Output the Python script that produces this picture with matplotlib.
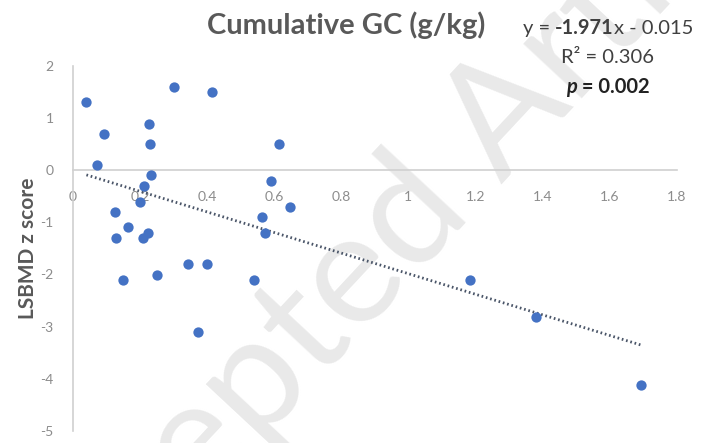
import numpy as np
import matplotlib
matplotlib.use("Agg")
import matplotlib.pyplot as plt
from matplotlib.offsetbox import TextArea, HPacker, VPacker, AnnotationBbox

# cumulative GC (g/kg) vs LSBMD z score
gc = [0.040, 0.091, 0.073, 0.300, 0.415, 0.227, 0.229, 0.234, 0.211, 0.199,
      0.614, 0.591, 0.646, 0.125, 0.563, 0.127, 0.163, 0.209, 0.224, 0.571,
      0.150, 0.249, 0.344, 0.399, 0.539, 0.373, 1.183, 1.381, 1.693]
z = [1.30, 0.69, 0.10, 1.59, 1.50, 0.89, 0.49, -0.10, -0.31, -0.61,
     0.49, -0.21, -0.71, -0.80, -0.90, -1.31, -1.10, -1.31, -1.21, -1.21,
     -2.10, -2.01, -1.80, -1.80, -2.10, -3.11, -2.10, -2.81, -4.12]

slope, intercept = -1.971, -0.015
xticks = [0, 0.2, 0.4, 0.6, 0.8, 1, 1.2, 1.4, 1.6, 1.8]
xticklabels = ["0", "0.2", "0.4", "0.6", "0.8", "1", "1.2", "1.4", "1.6", "1.8"]
yticks = [-5, -4, -3, -2, -1, 0, 1, 2]

plt.rcParams["font.family"] = ["Lato", "DejaVu Sans"]
plt.rcParams["axes.unicode_minus"] = False

fig = plt.figure(figsize=(7.02, 4.43), dpi=100)
ax = fig.add_axes([0.104, 0.027, 0.860, 0.825])
ax.patch.set_alpha(0)

# faint watermark behind everything
fig.text(0.55, 0.45, "Accepted Article", rotation=47, fontsize=114,
         color="#e9e9e9", ha="center", va="center", zorder=-5)

ax.scatter(gc, z, s=55, color="#4472C4", zorder=3, linewidths=0)
xs = np.array([min(gc), max(gc)])
ax.plot(xs, slope * xs + intercept, color="#4A5568", lw=2.0,
        ls=(0, (0.6, 1.0)), zorder=2)

ax.set_xlim(0, 1.8)
ax.set_ylim(-5, 2)
ax.set_xticks(xticks)
ax.set_xticklabels(xticklabels)
ax.set_yticks(yticks)
ax.tick_params(length=0, labelsize=10, labelcolor="#8c8c8c")
ax.tick_params(axis="x", pad=15)
ax.tick_params(axis="y", pad=14)

ax.spines["top"].set_visible(False)
ax.spines["right"].set_visible(False)
ax.spines["bottom"].set_position(("data", 0))
ax.spines["bottom"].set_color("#d0d0d0")
ax.spines["left"].set_color("#d0d0d0")
ax.spines["bottom"].set_linewidth(1.2)
ax.spines["left"].set_linewidth(1.2)

ax.set_ylabel("LSBMD z score", fontsize=15, fontweight="bold", color="#595959")
ax.yaxis.set_label_coords(-0.058, 0.5)

fig.text(0.493, 0.944, "Cumulative GC (g/kg)", fontsize=21, fontweight="bold",
         color="#595959", ha="center", va="center")

# regression annotation
c = "#404040"
fs = 14.5
line1 = HPacker(children=[
    TextArea("y = ", textprops=dict(fontsize=fs, color=c)),
    TextArea("-1.971", textprops=dict(fontsize=fs, color=c, fontweight="bold")),
    TextArea("x - 0.015", textprops=dict(fontsize=fs, color=c)),
], pad=0, sep=0)
line2 = TextArea("R² = 0.306", textprops=dict(fontsize=fs, color=c))
line3 = HPacker(children=[
    TextArea("p", textprops=dict(fontsize=fs, color="#222222", fontweight="bold",
                                 fontstyle="italic")),
    TextArea(" = 0.002", textprops=dict(fontsize=fs, color="#222222",
                                        fontweight="bold")),
], pad=0, sep=0)
box = VPacker(children=[line1, line2, line3], align="center", pad=0, sep=8)
ab = AnnotationBbox(box, (0.866, 0.871), xycoords="figure fraction",
                    frameon=False, box_alignment=(0.5, 0.5))
fig.add_artist(ab)

fig.savefig("out.png", dpi=100)
